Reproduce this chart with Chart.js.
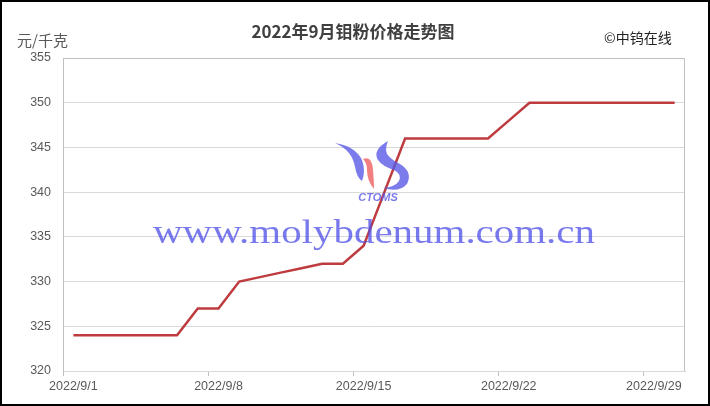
<!DOCTYPE html>
<html lang="zh">
    <head>
        <meta charset="utf-8">
        <script src="https://cdn.jsdelivr.net/npm/chart.js"></script>
        <style>
            body { margin: 0; background: #fff; }
        </style>
    </head>
    <body>
        <canvas id="myChart" width="710" height="406"></canvas>
        <script>
            // daily price, 2022/9/1 .. 2022/9/30
            const dates = []
            for (let d = 1; d <= 30; d++) dates.push("2022/9/" + d)
            const prices = [
                324, 324, 324, 324, 324, 324, 327, 327, 330, 330.5,
                331, 331.5, 332, 332, 334, 340, 346, 346, 346, 346,
                346, 348, 350, 350, 350, 350, 350, 350, 350, 350,
            ]
            const yTicks = [320, 325, 330, 335, 340, 345, 350, 355]

            const chartTitle = "2022年9月钼粉价格走势图"
            const unitLabel = "元/千克"
            const sourceLabel = "©中钨在线"
            const watermark = "www.molybdenum.com.cn"

            const decorations = {
                id: "decorations",
                beforeDraw(chart) {
                    const c = chart.ctx
                    c.save()
                    c.fillStyle = "#fff"
                    c.fillRect(0, 0, chart.width, chart.height)
                    c.fillStyle = "#404040"
                    c.font = "bold 17px 'Noto Sans CJK SC'"
                    c.textAlign = "center"
                    c.textBaseline = "middle"
                    c.fillText(chartTitle, 353, 32)
                    c.fillStyle = "#595959"
                    c.font = "15px 'Noto Sans CJK SC'"
                    c.textAlign = "left"
                    c.fillText(unitLabel, 17, 40)
                    c.fillStyle = "#222"
                    c.font = "14px 'Noto Sans CJK SC'"
                    c.fillText(sourceLabel, 604, 38)
                    c.restore()
                },
                afterDraw(chart) {
                    const c = chart.ctx
                    const a = chart.chartArea
                    c.save()
                    // plot area frame
                    c.strokeStyle = "#bfbfbf"
                    c.lineWidth = 1
                    c.beginPath()
                    c.moveTo(a.left + 0.5, a.bottom)
                    c.lineTo(a.left + 0.5, a.top + 0.5)
                    c.lineTo(a.right - 0.5, a.top + 0.5)
                    c.lineTo(a.right - 0.5, a.bottom)
                    c.stroke()

                    // logo
                    c.globalAlpha = 0.8
                    c.fillStyle = "#5a5ae6"
                    c.beginPath()
                    c.moveTo(335, 143)
                    c.quadraticCurveTo(352, 150, 355, 167)
                    c.quadraticCurveTo(357, 178, 362, 181)
                    c.quadraticCurveTo(366, 172, 362, 160)
                    c.quadraticCurveTo(355, 146, 335, 143)
                    c.fill()
                    c.fillStyle = "#f06060"
                    c.beginPath()
                    c.moveTo(363, 159)
                    c.quadraticCurveTo(372, 155, 373, 170)
                    c.quadraticCurveTo(374, 180, 374, 189)
                    c.quadraticCurveTo(367, 181, 367, 170)
                    c.quadraticCurveTo(367, 163, 363, 159)
                    c.fill()
                    c.fillStyle = "#5a5ae6"
                    c.beginPath()
                    c.moveTo(388, 141)
                    c.quadraticCurveTo(372, 150, 378, 160)
                    c.quadraticCurveTo(382, 166, 394, 170)
                    c.quadraticCurveTo(402, 174, 399, 181)
                    c.quadraticCurveTo(395, 187, 383, 188)
                    c.quadraticCurveTo(399, 193, 407, 184)
                    c.quadraticCurveTo(413, 172, 400, 164)
                    c.quadraticCurveTo(386, 157, 386, 150)
                    c.quadraticCurveTo(386, 145, 388, 141)
                    c.fill()
                    c.font = "italic bold 11px 'Liberation Sans'"
                    c.textAlign = "center"
                    c.textBaseline = "middle"
                    c.fillText("CTOMS", 378, 198)

                    // site watermark
                    c.globalAlpha = 0.75
                    c.fillStyle = "#4c4ce8"
                    c.font = "34px 'Liberation Serif'"
                    c.textAlign = "left"
                    c.textBaseline = "alphabetic"
                    const w = c.measureText(watermark).width
                    c.translate(153, 243)
                    c.scale(442 / w, 1)
                    c.fillText(watermark, 0, 0)
                    c.restore()

                    // outer frame
                    c.save()
                    c.strokeStyle = "#000"
                    c.lineWidth = 2
                    c.strokeRect(1, 1, chart.width - 2, chart.height - 2)
                    c.restore()
                },
            }

            const ctx = document.getElementById("myChart")
            new Chart(ctx, {
                type: "line",
                data: {
                    labels: dates,
                    datasets: [
                        {
                            label: "钼粉价格",
                            data: prices,
                            borderColor: "#be3b3f",
                            borderWidth: 2.5,
                            pointRadius: 0,
                            tension: 0,
                        },
                    ],
                },
                options: {
                    responsive: false,
                    animation: false,
                    layout: { padding: { left: 0, right: 25, top: 58, bottom: 0 } },
                    plugins: {
                        legend: { display: false },
                        tooltip: { enabled: false },
                    },
                    scales: {
                        x: {
                            offset: true,
                            afterFit: (scale) => { scale.height = 35 },
                            grid: {
                                offset: true,
                                drawOnChartArea: false,
                                tickLength: 5,
                                color: (c) => (c.index % 7 === 0 ? "#bfbfbf" : "rgba(0,0,0,0)"),
                            },
                            border: { color: "#d9d9d9" },
                            ticks: {
                                autoSkip: false,
                                maxRotation: 0,
                                padding: 3,
                                color: "#595959",
                                font: { family: "'Liberation Sans'", size: 12.5 },
                                callback: function (value, index) {
                                    return index % 7 === 0 ? this.getLabelForValue(value) : ""
                                },
                            },
                        },
                        y: {
                            min: yTicks[0],
                            max: yTicks[yTicks.length - 1],
                            afterFit: (scale) => { scale.width = 63 },
                            afterBuildTicks: (scale) => {
                                scale.ticks = yTicks.map((v) => ({ value: v }))
                            },
                            grid: { color: "#d9d9d9", drawTicks: false },
                            border: { color: "#bfbfbf" },
                            ticks: {
                                padding: 12,
                                color: "#595959",
                                font: { family: "'Liberation Sans'", size: 12.5 },
                            },
                        },
                    },
                },
                plugins: [decorations],
            })
        </script>
    </body>
</html>
